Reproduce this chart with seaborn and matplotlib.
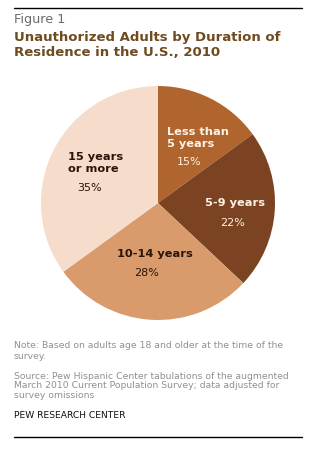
import seaborn as sns
import matplotlib.pyplot as plt

# data
labels = ["Less than\n5 years", "5-9 years", "10-14 years", "15 years\nor more"]
shares = [15, 22, 28, 35]
colors = ["#b0642e", "#7c4322", "#d99a6c", "#f5dccb"]
label_colors = ["#fdf3e6", "#fdf3e6", "#2a1408", "#2a1408"]

sns.set_style("white")
plt.rcParams["font.family"] = ["DejaVu Sans"]

W, H = 310, 450
fig = plt.figure(figsize=(W / 100, H / 100), dpi=100)
fig.patch.set_facecolor("white")

def fx(px):
    return px / W

def fy(py):
    return 1 - py / H

# pie axis: centre ~ (158, 203), radius ~117
r = 117
ax = fig.add_axes([fx(158 - r), fy(203 + r), 2 * r / W, 2 * r / H])
wedges, _ = ax.pie(shares, colors=colors, startangle=90, counterclock=False,
                   wedgeprops=dict(linewidth=0))
ax.set_aspect("equal")
ax.set_xlim(-1, 1)
ax.set_ylim(-1, 1)
ax.axis("off")

# label anchors (left edge x, centre y) and percent centres, pixel coords
pos = [(167, 138), (205, 203), (117, 254), (68, 163)]
pct_pos = [(189, 162), (233, 223), (147, 273), (90, 188)]
for lab, p, pp, c, v in zip(labels, pos, pct_pos, label_colors, shares):
    fig.text(fx(p[0]), fy(p[1]), lab, ha="left", va="center", fontsize=8.2,
             fontweight="bold", color=c, linespacing=1.3)
    fig.text(fx(pp[0]), fy(pp[1]), f"{v}%", ha="center", va="center",
             fontsize=8.0, color=c)

# frame lines
fig.add_artist(plt.Line2D([fx(14), fx(302)], [fy(8), fy(8)], color="black", lw=1.0))
fig.add_artist(plt.Line2D([fx(14), fx(302)], [fy(437), fy(437)], color="black", lw=1.0))

fig.text(fx(14), fy(19), "Figure 1", ha="left", va="center", fontsize=9.2, color="#6a6a6a")
fig.text(fx(14), fy(45), "Unauthorized Adults by Duration of\nResidence in the U.S., 2010",
         ha="left", va="center", fontsize=9.5, fontweight="bold", color="#6e4c1f",
         linespacing=1.15)

fig.text(fx(14), fy(351), "Note: Based on adults age 18 and older at the time of the\nsurvey.",
         ha="left", va="center", fontsize=6.7, color="#909090", linespacing=1.2)
fig.text(fx(14), fy(386), "Source: Pew Hispanic Center tabulations of the augmented\n"
         "March 2010 Current Population Survey; data adjusted for\nsurvey omissions",
         ha="left", va="center", fontsize=6.7, color="#909090", linespacing=1.1)
fig.text(fx(14), fy(416), "PEW RESEARCH CENTER", ha="left", va="center",
         fontsize=6.6, color="#111111")

fig.savefig("out.png", dpi=100, facecolor="white")
